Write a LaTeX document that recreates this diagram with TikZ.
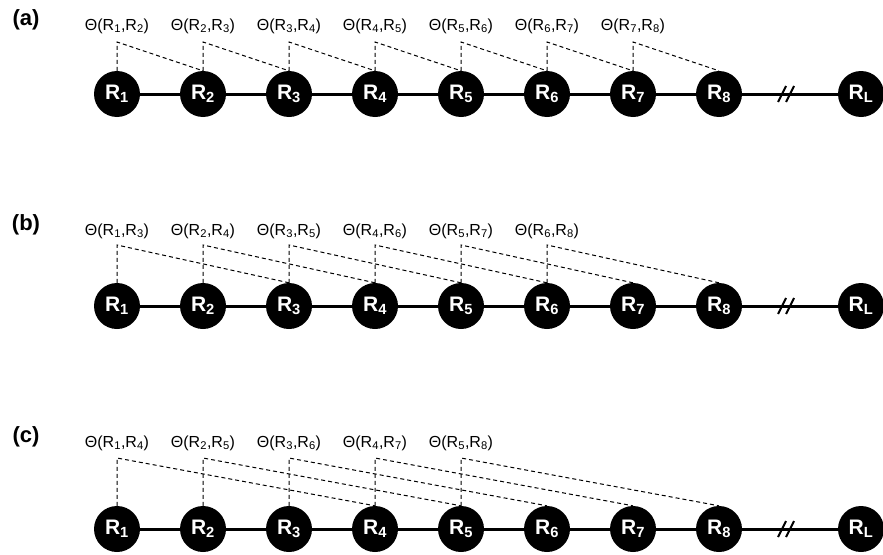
\documentclass[tikz,border=0pt]{standalone}
\usepackage{fontspec}
\setmainfont{Liberation Sans}
\begin{document}
\begin{tikzpicture}[x=1pt,y=-1pt,
  res/.style={circle, fill=black, minimum size=46pt, inner sep=0pt, text=white,
    font=\bfseries\fontsize{21}{21}\selectfont},
  chainline/.style={line width=3pt},
  link/.style={line width=1pt, dash pattern=on 4pt off 3pt},
  theta/.style={font=\fontsize{16}{16}\selectfont, inner sep=0pt},
  panel/.style={font=\bfseries\fontsize{22}{22}\selectfont, inner sep=0pt},
  brkmark/.style={line width=2pt}]
\useasboundingbox (0,0) rectangle (883,554);
\foreach \rw/\Y/\LY/\CY/\sh/\nn/\PY in {a/94/26/42/1/7/20, b/306/231/245/2/6/225, c/529/443/458/3/5/437} {
  \node[panel] (\rw panel) at (26,\PY) {(\rw)};
  \foreach \i in {1,...,8} {
    \node[res] (\rw\i) at ({117+86*(\i-1)},\Y) {R\textsubscript{\i}};
  }
  \node[res] (\rw L) at (861,\Y) {R\textsubscript{L}};
  \foreach \i in {1,...,7} {
    \pgfmathtruncatemacro\j{\i+1}
    \draw[chainline] (\rw\i) -- (\rw\j);
  }
  \coordinate (\rw brk) at (787,\Y);
  \draw[chainline] (\rw8) -- (\rw L);
  \draw[brkmark] ([shift={(-9pt,-8pt)}]\rw brk) -- ([shift={(-1pt,8pt)}]\rw brk);
  \draw[brkmark] ([shift={(-1pt,-8pt)}]\rw brk) -- ([shift={(7pt,8pt)}]\rw brk);
  \foreach \i in {1,...,\nn} {
    \pgfmathtruncatemacro\j{\i+\sh}
    \node[theta] (\rw t\i) at ({117+86*(\i-1)},\LY) {Θ(R\textsubscript{\i},R\textsubscript{\j})};
    \coordinate (\rw c\i) at ({117+86*(\i-1)},\CY);
    \draw[link] (\rw\i.north) -- (\rw c\i) -- (\rw\j.north);
  }
}
\end{tikzpicture}
\end{document}
